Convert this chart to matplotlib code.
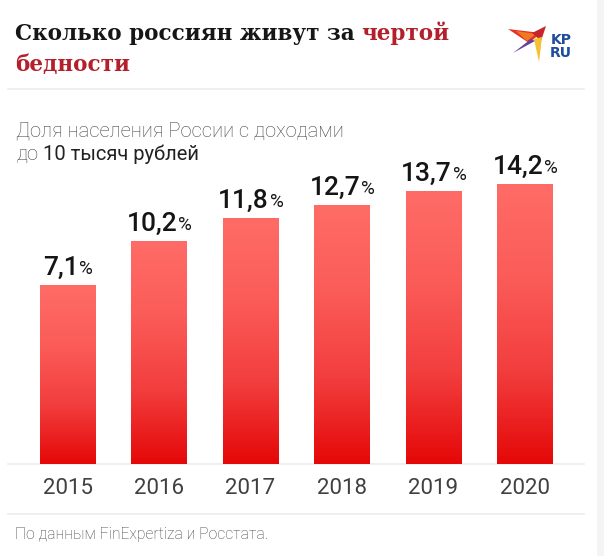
import numpy as np
import matplotlib
matplotlib.use('Agg')
import matplotlib.pyplot as plt
from matplotlib.colors import LinearSegmentedColormap
from matplotlib.patches import Polygon, Rectangle
from matplotlib.lines import Line2D

years = ['2015', '2016', '2017', '2018', '2019', '2020']
shares = [7.1, 10.2, 11.8, 12.7, 13.7, 14.2]
share_labels = ['7,1', '10,2', '11,8', '12,7', '13,7', '14,2']

title_black = 'Сколько россиян живут за'
title_red_1 = 'чертой'
title_red_2 = 'бедности'
subtitle_1 = 'Доля населения России с доходами'
subtitle_2a = 'до'
subtitle_2b = '10 тысяч рублей'
footer = 'По данным FinExpertiza и Росстата.'

W, H = 604, 556
floor = -5.4  # bars in the original do not start from zero

fig = plt.figure(figsize=(W / 100, H / 100), dpi=100)
fig.patch.set_facecolor('white')

# overlay in pixel coords (y from the top) for the texts and decorations
bg = fig.add_axes([0, 0, 1, 1])
bg.set_xlim(0, W)
bg.set_ylim(H, 0)
bg.axis('off')

for yy in (89, 464, 514):
    bg.add_line(Line2D([8, 584], [yy, yy], color='#ececec', lw=1.2))
bg.add_patch(Rectangle((597, 0), 7, H, color='#f4f4f4', lw=0))

# title
serif = dict(family='DejaVu Serif', weight='bold', fontsize=15.5)
t1 = bg.text(15, 40, title_black, color='#161616', va='baseline', **serif)
bg.annotate(title_red_1, xy=(1, 0), xycoords=t1, xytext=(4.5, 0),
            textcoords='offset points', color='#b3202c', va='bottom', **serif)
bg.text(15, 71, title_red_2, color='#b3202c', va='baseline', **serif)

# subtitle
bg.text(16, 136, subtitle_1, family='Roboto', weight='light',
        fontsize=14.5, color='#444444', va='baseline')
s2 = bg.text(16, 160, subtitle_2a, family='Roboto', weight='light',
             fontsize=14.5, color='#444444', va='baseline')
bg.annotate(subtitle_2b, xy=(1, 0), xycoords=s2, xytext=(3.5, 0),
            textcoords='offset points', family='Roboto', weight='normal',
            fontsize=14.5, color='#222222', va='bottom')

# footer
bg.text(15, 539, footer, family='Roboto', weight='light',
        fontsize=11.3, color='#444444', va='baseline')

# logo (rough)
for pts, c in [
    ([(508, 29), (541, 33), (529, 43)], '#e5332a'),
    ([(516, 31), (536, 34), (527, 41)], '#f07a22'),
    ([(532, 33), (546, 26), (541, 41)], '#c8242b'),
    ([(534, 39), (542, 37), (539, 62)], '#f6c12f'),
    ([(513, 53), (531, 39), (535, 41)], '#6a3f9a'),
]:
    bg.add_patch(Polygon(pts, closed=True, color=c, lw=0))
bg.text(561, 44, 'KP', family='DejaVu Sans', weight='bold', fontsize=10,
        color='#1f4c9c', va='baseline', ha='center')
bg.text(561, 57, 'RU', family='DejaVu Sans', weight='bold', fontsize=10,
        color='#1f4c9c', va='baseline', ha='center')

# chart
ax = fig.add_axes([21.75 / W, 1 - 464 / H, 549 / W, 334 / H])
ax.set_facecolor('none')
x = np.arange(len(years))
heights = np.array(shares) - floor
bars = ax.bar(x, heights, bottom=floor, width=0.612, color='none', zorder=2)
ax.set_xlim(-0.5, len(years) - 0.5)
ax.set_ylim(floor, floor + 334 / 14.31)

cmap = LinearSegmentedColormap.from_list('kp', ['#e50808', '#f23e3e', '#fb5c58', '#ff6c67'])
grad = np.linspace(0, 1, 256).reshape(-1, 1)
for b in bars:
    x0, y0 = b.get_x(), b.get_y()
    im = ax.imshow(grad, cmap=cmap, origin='lower', aspect='auto', zorder=2,
                   extent=(x0, x0 + b.get_width(), y0, y0 + b.get_height()))
    im.set_clip_path(b)

for xi, v, lab in zip(x, shares, share_labels):
    num = ax.annotate(lab, xy=(xi, v), xytext=(-5, 7.2), textcoords='offset points',
                      ha='center', va='baseline', family='Roboto', weight='medium',
                      fontsize=19, color='#151515')
    ax.annotate('%', xy=(1, 0), xycoords=num, xytext=(0.5, 1.2),
                textcoords='offset points', ha='left', va='bottom',
                family='Roboto', weight='normal', fontsize=13.5, color='#151515')

ax.set_xticks(x, years)
ax.tick_params(axis='x', length=0, pad=10, labelsize=16, labelcolor='#404040')
for lbl in ax.get_xticklabels():
    lbl.set_family('Roboto')
    lbl.set_weight('normal')
ax.set_yticks([])
for s in ax.spines.values():
    s.set_visible(False)

fig.savefig('out.png', dpi=100, facecolor='white')
